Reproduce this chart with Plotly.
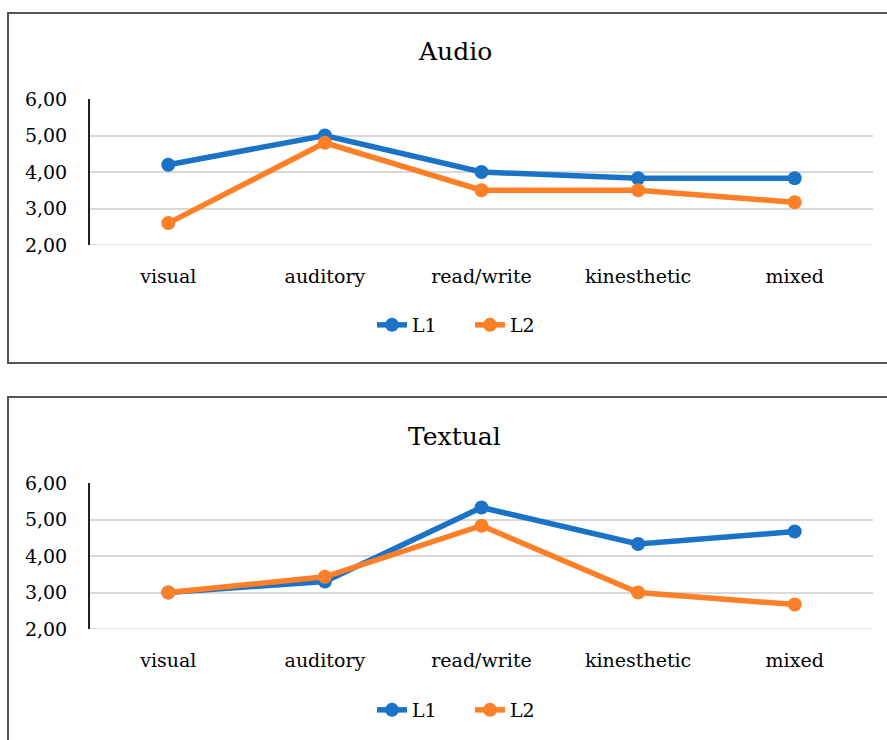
import plotly.graph_objects as go

categories = ["visual", "auditory", "read/write", "kinesthetic", "mixed"]
audio_L1 = [4.2, 5.0, 4.0, 3.83, 3.83]
audio_L2 = [2.6, 4.8, 3.5, 3.5, 3.17]
textual_L1 = [3.0, 3.3, 5.33, 4.33, 4.67]
textual_L2 = [3.0, 3.43, 4.83, 3.0, 2.67]
titles = ["Audio", "Textual"]
series_names = ["L1", "L2"]
colors = ["#1B73C8", "#FD7F28"]
y_ticks = [2, 3, 4, 5, 6]

W, H = 887, 740
FONT = "DejaVu Serif"

def px(x):
    return x / W

def py(y):
    return 1 - y / H

fig = go.Figure()

panels = [
    dict(data=[audio_L1, audio_L2], xa="x", ya="y", legend="legend",
         top=99, bottom=245, box=(13, 363), title_y=52, legend_y=325),
    dict(data=[textual_L1, textual_L2], xa="x2", ya="y2", legend="legend2",
         top=483, bottom=629, box=(397, 760), title_y=436, legend_y=710),
]

layout = dict(
    width=W, height=H, autosize=False,
    margin=dict(l=0, r=0, t=0, b=0, pad=0),
    paper_bgcolor="white", plot_bgcolor="white",
    separators=",.",
    font=dict(family=FONT, size=19, color="#000"),
    shapes=[], annotations=[],
)

for i, p in enumerate(panels):
    for s, (vals, name, col) in enumerate(zip(p["data"], series_names, colors)):
        fig.add_trace(go.Scatter(
            x=categories, y=vals, name=name, mode="lines+markers",
            line=dict(color=col, width=5.5),
            marker=dict(color=col, size=14),
            xaxis=p["xa"], yaxis=p["ya"], legend=p["legend"],
        ))
    sfx = "" if i == 0 else "2"
    layout["xaxis" + sfx] = dict(
        domain=[px(90), px(873)], anchor="y" + sfx,
        type="category", range=[-0.5, 4.5], automargin=False,
        showgrid=False, showline=False, zeroline=False,
        ticks="", ticklabelstandoff=18,
        tickfont=dict(family=FONT, size=19, color="#000"),
    )
    layout["yaxis" + sfx] = dict(
        domain=[py(p["bottom"]), py(p["top"])], anchor="x" + sfx,
        range=[2, 6], tickvals=y_ticks, tickformat=".2f", automargin=False,
        showgrid=True, gridcolor="#d9d9d9", gridwidth=1.5,
        zeroline=False, showline=True, linecolor="#222", linewidth=2,
        ticks="", ticklabelstandoff=17,
        tickfont=dict(family=FONT, size=19, color="#000"),
    )
    layout["shapes"].append(dict(
        type="line", xref="x" + sfx + " domain", yref="y" + sfx,
        x0=0, x1=1, y0=2, y1=2, line=dict(color="#d9d9d9", width=1.5), layer="below"))
    layout["shapes"].append(dict(
        type="rect", xref="paper", yref="paper",
        x0=px(8), x1=1.05, y0=py(p["box"][1]), y1=py(p["box"][0]),
        line=dict(color="#555", width=2), fillcolor="rgba(0,0,0,0)", layer="below"))
    layout["annotations"].append(dict(
        text=titles[i], xref="paper", yref="paper",
        x=px(455), y=py(p["title_y"]), xanchor="center", yanchor="middle",
        showarrow=False, font=dict(family=FONT, size=25, color="#000")))
    layout[p["legend"]] = dict(
        orientation="h", x=px(372), y=py(p["legend_y"]),
        xanchor="left", yanchor="middle",
        font=dict(family=FONT, size=19, color="#000"),
        bgcolor="rgba(0,0,0,0)", itemwidth=30, tracegroupgap=0,
        entrywidth=53, entrywidthmode="pixels",
    )

fig.update_layout(**layout)
fig.write_html("out.html", config={"displayModeBar": False},
               post_script="document.body.style.margin='0';document.body.style.overflow='hidden';")
